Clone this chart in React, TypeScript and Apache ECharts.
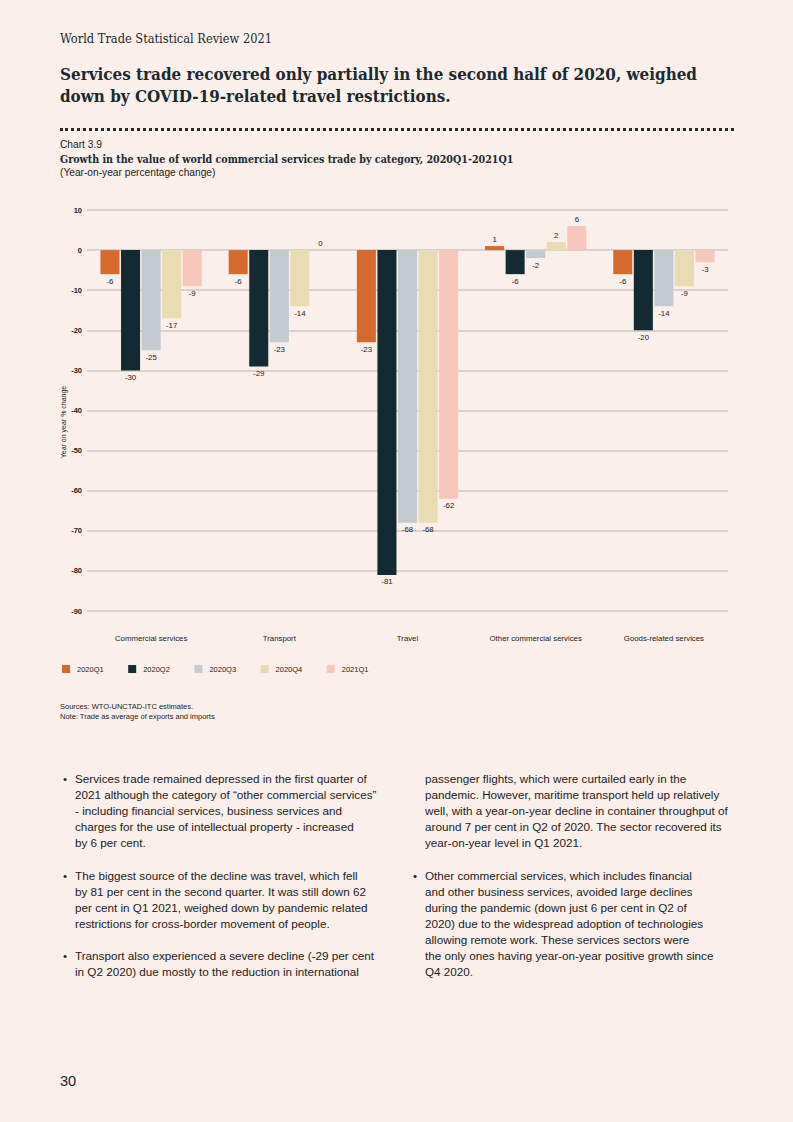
import React, { useEffect, useRef } from "react";
import * as echarts from "echarts";

const categories = ["Commercial services", "Transport", "Travel", "Other commercial services", "Goods-related services"];
const seriesNames = ["2020Q1", "2020Q2", "2020Q3", "2020Q4", "2021Q1"];
const q1_2020 = [-6, -6, -23, 1, -6];
const q2_2020 = [-30, -29, -81, -6, -20];
const q3_2020 = [-25, -23, -68, -2, -14];
const q4_2020 = [-17, -14, -68, 2, -9];
const q1_2021 = [-9, 0, -62, 6, -3];
const seriesValues = [q1_2020, q2_2020, q3_2020, q4_2020, q1_2021];
const colors = ["#D46A30", "#132A32", "#C4CAD0", "#E9DBB4", "#F7C7BC"];
const yAxisTitle = "Year on year % change";

const BG = "#FAEFEA";
const INK = "#1B2A30";
const CHART_FONT = "'Liberation Sans', Arial, sans-serif";

function Chart() {
  const ref = useRef<HTMLDivElement>(null);
  useEffect(() => {
    if (!ref.current) return;
    const chart = echarts.init(ref.current, undefined, { renderer: "svg" });
    chart.setOption({
      animation: false,
      backgroundColor: "transparent",
      textStyle: { fontFamily: CHART_FONT },
      grid: { left: 87, right: 65, top: 15, height: 401 },
      legend: {
        left: 62,
        top: 470,
        padding: 0,
        itemWidth: 8,
        itemHeight: 8,
        itemGap: 24.5,
        icon: "rect",
        textStyle: { fontSize: 7.5, color: "#222", fontFamily: CHART_FONT, padding: [0, 0, 0, 2] },
        data: seriesNames,
      },
      graphic: [
        {
          type: "text",
          x: 63,
          y: 227,
          rotation: Math.PI / 2,
          style: {
            text: yAxisTitle,
            fontSize: 7,
            fill: "#222",
            fontFamily: CHART_FONT,
            align: "center",
            verticalAlign: "middle",
          },
        },
      ],
      xAxis: {
        type: "category",
        data: categories,
        axisLine: { show: false, onZero: false },
        axisTick: { show: false },
        axisLabel: { fontSize: 7.8, color: "#222", margin: 23 },
        splitLine: { show: false },
      },
      yAxis: {
        type: "value",
        min: -90,
        max: 10,
        interval: 10,
        axisLine: { show: false },
        axisTick: { show: false },
        axisLabel: { fontSize: 7.5, color: "#222", fontWeight: "bold", margin: 5 },
        splitLine: { lineStyle: { color: "#CEC7C3", width: 1.5 } },
      },
      series: seriesNames.map((name, i) => ({
        name,
        type: "bar",
        barCategoryGap: "21%",
        barGap: "8%",
        itemStyle: { color: colors[i] },
        data: seriesValues[i].map((v) => ({
          value: v,
          label: { position: v >= 0 ? "top" : "bottom" },
        })),
        label: {
          show: true,
          fontSize: 7.8,
          color: "#222",
          distance: 3,
        },
      })),
    });
    return () => chart.dispose();
  }, []);
  return <div ref={ref} style={{ position: "absolute", left: 0, top: 195, width: 793, height: 500 }} />;
}

const bodyFont = "'Liberation Sans', Arial, sans-serif";
const serif = "'DejaVu Serif Condensed', 'DejaVu Serif', serif";

function Bullet({ x, y, lines }: { x: number; y: number; lines: string[] }) {
  return (
    <div style={{ position: "absolute", left: x, top: y, fontFamily: bodyFont, fontSize: 11.7, lineHeight: "16px", color: "#1c1c1c" }}>
      <span style={{ position: "absolute", left: -12, top: 0 }}>•</span>
      {lines.map((l, i) => (
        <div key={i} style={{ whiteSpace: "nowrap" }}>{l}</div>
      ))}
    </div>
  );
}

export default function App() {
  return (
    <div style={{ position: "absolute", left: 0, top: 0, width: 793, height: 1122, background: BG, overflow: "hidden" }}>
      <div style={{ position: "absolute", left: 60, top: 31, fontFamily: serif, fontSize: 12.7, color: INK }}>
        World Trade Statistical Review 2021
      </div>
      <div style={{ position: "absolute", left: 60, top: 63, fontFamily: serif, fontWeight: "bold", fontSize: 16.9, lineHeight: "22px", color: INK, whiteSpace: "nowrap" }}>
        <div>Services trade recovered only partially in the second half of 2020, weighed</div>
        <div>down by COVID-19-related travel restrictions.</div>
      </div>
      <div style={{ position: "absolute", left: 60, top: 128, width: 674, height: 0, borderTop: "3px dotted #2a2a2a" }} />
      <div style={{ position: "absolute", left: 60, top: 138, fontFamily: bodyFont, fontSize: 10.2, lineHeight: "14px", color: "#1c1c1c" }}>
        <div>Chart 3.9</div>
        <div style={{ fontWeight: "bold", fontFamily: serif, fontSize: 10.6, whiteSpace: "nowrap", color: INK }}>Growth in the value of world commercial services trade by category, 2020Q1-2021Q1</div>
        <div>(Year-on-year percentage change)</div>
      </div>
      <Chart />
      <div style={{ position: "absolute", left: 60, top: 702, fontFamily: bodyFont, fontSize: 7.5, lineHeight: "10px", color: "#1c1c1c" }}>
        <div>Sources: WTO-UNCTAD-ITC estimates.</div>
        <div>Note: Trade as average of exports and imports</div>
      </div>
      <Bullet x={75} y={771} lines={[
        "Services trade remained depressed in the first quarter of",
        "2021 although the category of \u201cother commercial services\u201d",
        "- including financial services, business services and",
        "charges for the use of intellectual property - increased",
        "by 6 per cent.",
      ]} />
      <Bullet x={75} y={868} lines={[
        "The biggest source of the decline was travel, which fell",
        "by 81 per cent in the second quarter. It was still down 62",
        "per cent in Q1 2021, weighed down by pandemic related",
        "restrictions for cross-border movement of people.",
      ]} />
      <Bullet x={75} y={948} lines={[
        "Transport also experienced a severe decline (-29 per cent",
        "in Q2 2020) due mostly to the reduction in international",
      ]} />
      <div style={{ position: "absolute", left: 425, top: 771, fontFamily: bodyFont, fontSize: 11.7, lineHeight: "16px", color: "#1c1c1c", whiteSpace: "nowrap" }}>
        <div>passenger flights, which were curtailed early in the</div>
        <div>pandemic. However, maritime transport held up relatively</div>
        <div>well, with a year-on-year decline in container throughput of</div>
        <div>around 7 per cent in Q2 of 2020. The sector recovered its</div>
        <div>year-on-year level in Q1 2021.</div>
      </div>
      <Bullet x={425} y={868} lines={[
        "Other commercial services, which includes financial",
        "and other business services, avoided large declines",
        "during the pandemic (down just 6 per cent in Q2 of",
        "2020) due to the widespread adoption of technologies",
        "allowing remote work. These services sectors were",
        "the only ones having year-on-year positive growth since",
        "Q4 2020.",
      ]} />
      <div style={{ position: "absolute", left: 60, top: 1073, fontFamily: bodyFont, fontSize: 14.5, color: "#1c1c1c" }}>30</div>
    </div>
  );
}
